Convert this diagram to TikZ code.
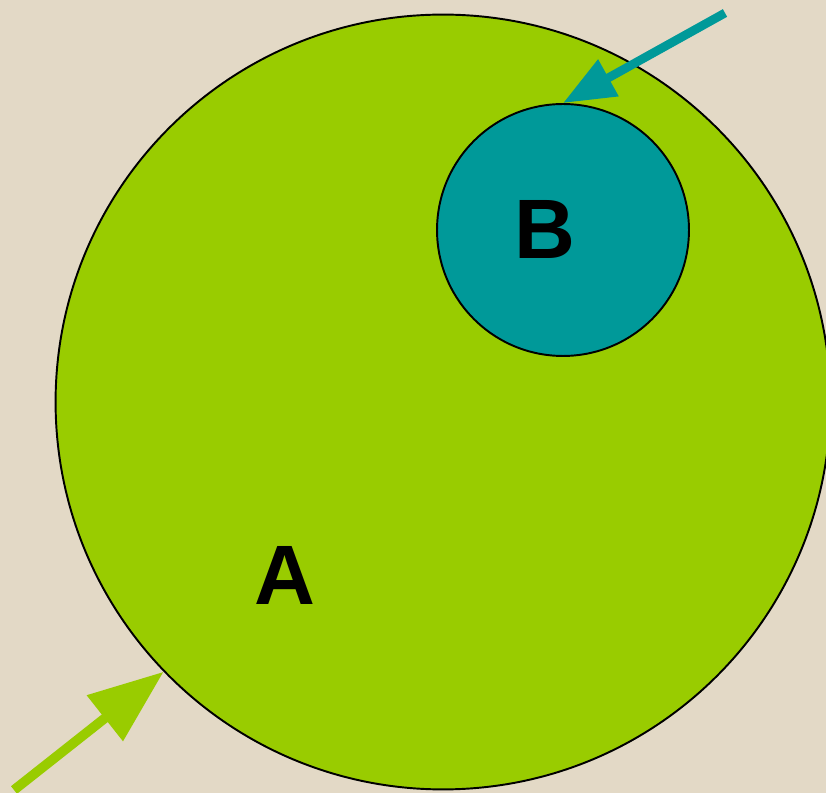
\documentclass[tikz,border=0pt]{standalone}
\usepackage{fontspec}
\setmainfont{Liberation Sans}
\usetikzlibrary{arrows.meta}

\definecolor{setgreen}{HTML}{99CC00}
\definecolor{setteal}{HTML}{009999}
\definecolor{paper}{HTML}{E3D9C6}

\begin{document}
\begin{tikzpicture}[x=0.02cm,y=-0.02cm,
    setcircle/.style={circle,draw=black,line width=1.1pt,inner sep=0pt},
    setname/.style={font=\fontsize{48}{48}\selectfont\bfseries,text=black}]

% Background
\fill[paper] (0,0) rectangle (826,793);
\useasboundingbox (0,0) rectangle (826,793);

% Sets
\node[setcircle,fill=setgreen,minimum size=15.5cm] (A) at (443,402) {};
\node[setcircle,fill=setteal,minimum size=5.04cm] (B) at (563,230) {};

% Set names
\node[setname] (labA) at (285,575) {A};
\node[setname] (labB) at (545,229) {B};

% Pointers
\coordinate (startB) at (725,13);
\coordinate (startA) at (14,790);
\draw[setteal,line width=5pt,-{Triangle[length=1.04cm,width=0.8cm]}]
    (startB) -- (B.north);
\draw[setgreen,line width=5.5pt,-{Triangle[length=1.5cm,width=1.12cm]}]
    (startA) -- (A.224);

\end{tikzpicture}
\end{document}
